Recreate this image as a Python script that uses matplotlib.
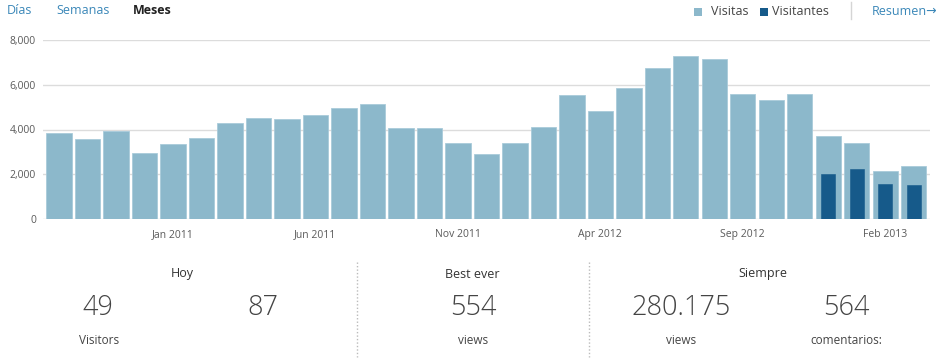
import matplotlib
matplotlib.use("Agg")
import matplotlib.pyplot as plt
from matplotlib.patches import Rectangle
from matplotlib.lines import Line2D
from matplotlib.ticker import FuncFormatter

W, H = 948, 361

months = [
    "Sep 2010", "Oct 2010", "Nov 2010", "Dec 2010",
    "Jan 2011", "Feb 2011", "Mar 2011", "Apr 2011", "May 2011", "Jun 2011",
    "Jul 2011", "Aug 2011", "Sep 2011", "Oct 2011", "Nov 2011", "Dec 2011",
    "Jan 2012", "Feb 2012", "Mar 2012", "Apr 2012", "May 2012", "Jun 2012",
    "Jul 2012", "Aug 2012", "Sep 2012", "Oct 2012", "Nov 2012", "Dec 2012",
    "Jan 2013", "Feb 2013", "Mar 2013",
]
visitas = [
    3840, 3580, 3930, 2950, 3330, 3620, 4300, 4520, 4460, 4660,
    4940, 5120, 4050, 4080, 3410, 2920, 3390, 4110, 5520, 4820,
    5850, 6740, 7280, 7160, 5600, 5300, 5570, 3720, 3380, 2140,
    2380,
]
# visitantes only recorded for the last four months
visitantes_months = ["Dec 2012", "Jan 2013", "Feb 2013", "Mar 2013"]
visitantes = [2010, 2230, 1560, 1520]

tick_months = ["Jan 2011", "Jun 2011", "Nov 2011", "Apr 2012", "Sep 2012", "Feb 2013"]

LIGHT = "#8cb8cb"
DARK = "#165a8a"
LINK = "#3a87b8"
FONT = "Open Sans"

plt.rcParams["font.family"] = [FONT, "DejaVu Sans"]


def px(x, y):
    return x / W, 1 - y / H


fig = plt.figure(figsize=(W / 100, H / 100), dpi=100)
fig.patch.set_facecolor("white")

ax = fig.add_axes([43 / W, 1 - 219 / H, (930 - 43) / W, (219 - 40) / H])
xs = list(range(len(months)))
ax.bar(xs, visitas, width=0.89, color=LIGHT, edgecolor="#a9cbda", linewidth=0.6, zorder=2)
vx = [months.index(m) for m in visitantes_months]
ax.bar(vx, visitantes, width=0.5, color=DARK, edgecolor=DARK, linewidth=0.4, zorder=3)

ax.set_ylim(0, 8000)
ax.set_xlim(-0.56, len(months) - 0.43)
ax.set_yticks([0, 2000, 4000, 6000, 8000])
ax.yaxis.set_major_formatter(FuncFormatter(lambda v, _: f"{int(v):,}"))
ax.set_xticks([months.index(m) for m in tick_months])
ax.set_xticklabels(tick_months)
ax.grid(axis="y", color="#dcdcdc", linewidth=1.0, zorder=0)
ax.set_axisbelow(True)
for s in ax.spines.values():
    s.set_visible(False)
ax.tick_params(axis="both", length=0, labelsize=7.5, labelcolor="#5a5a5a")
ax.tick_params(axis="y", pad=5)
ax.tick_params(axis="x", pad=7)

# header tabs
fig.text(*px(7, 11), "Días", ha="left", va="center", fontsize=9, color=LINK)
fig.text(*px(56, 11), "Semanas", ha="left", va="center", fontsize=9, color=LINK)
fig.text(*px(133, 11), "Meses", ha="left", va="center", fontsize=9, color="#222222",
         fontweight="bold")

# legend
for (x0, col, label, tx) in [(694, LIGHT, "Visitas", 711), (760, DARK, "Visitantes", 772)]:
    fig.add_artist(Rectangle(px(x0, 16), 8 / W, 8 / H, transform=fig.transFigure,
                             facecolor=col, edgecolor="none"))
    fig.text(*px(tx, 11.5), label, ha="left", va="center", fontsize=9, color="#444444")
fig.add_artist(Line2D([851 / W, 851 / W], [1 - 2 / H, 1 - 19 / H], transform=fig.transFigure,
                      color="#d5d5d5", linewidth=1))
fig.text(*px(872, 11.5), "Resumen\u2192", ha="left", va="center", fontsize=9, color=LINK)

# summary boxes
for xsep in (356.5, 588.5):
    fig.add_artist(Line2D([xsep / W, xsep / W], [1 - 262 / H, 1 - 357 / H],
                          transform=fig.transFigure, color="#bbbbbb", linewidth=1,
                          linestyle=(0, (1, 1.5))))

heads = [(182, "Hoy"), (472, "Best ever"), (763, "Siempre")]
for x, t in heads:
    fig.text(*px(x, 274), t, ha="center", va="center", fontsize=9, color="#333333")

numbers = [(98, "49"), (263, "87"), (473, "554"), (681, "280.175"), (846, "564")]
for x, t in numbers:
    fig.text(*px(x, 308), t, ha="center", va="center", fontsize=19.5, color="#444444",
             fontweight="light")

labels = [(99, "Visitors"), (473, "views"), (681, "views"), (846, "comentarios:")]
for x, t in labels:
    fig.text(*px(x, 340), t, ha="center", va="center", fontsize=8.5, color="#444444")

fig.savefig("out.png", dpi=100, facecolor="white")
